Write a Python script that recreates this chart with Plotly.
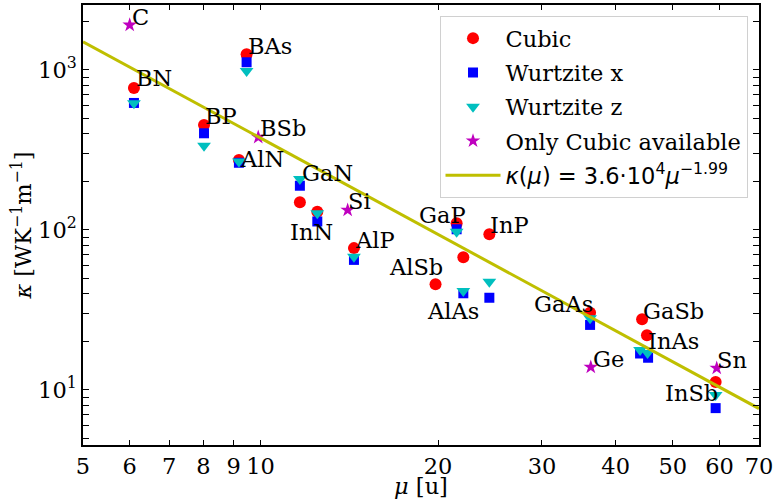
import numpy as np
import plotly.graph_objects as go

# ---- data ----
cubic_mu    = [6.1, 8.02, 9.19, 9.47, 11.66, 12.48, 14.4, 19.8, 21.5, 22.07, 24.43, 36.2, 44.35, 45.2, 59.1]
cubic_kappa = [772, 453, 274, 1254, 149, 130, 77, 45.8, 110, 67.5, 94, 30.4, 27.7, 22.0, 11.2]

wx_mu    = [6.1, 8.02, 9.19, 9.47, 11.66, 12.48, 14.4, 21.5, 22.07, 24.43, 36.2, 44.0, 45.4, 59.1]
wx_kappa = [622, 402, 263, 1117, 189, 113, 65, 101, 40.2, 37.7, 25.5, 16.9, 15.9, 7.7]

wz_mu    = [6.1, 8.02, 9.19, 9.47, 11.66, 12.48, 14.4, 21.5, 22.07, 24.43, 36.2, 44.0, 45.3, 59.1]
wz_kappa = [620, 336, 268, 985, 208, 127, 68, 97.5, 41.5, 47.5, 28.1, 17.8, 17.0, 9.3]

star_mu    = [6.0, 9.91, 14.05, 36.3, 59.35]
star_kappa = [1910, 380, 133, 13.9, 13.7]

fit_mu    = [5, 70]
fit_kappa = [1500, 7.65]

labels  = ["C", "BN", "BAs", "BP", "BSb", "AlN", "GaN", "InN", "Si", "AlP", "GaP", "InP",
           "AlSb", "AlAs", "GaAs", "GaSb", "InAs", "Ge", "Sn", "InSb"]
label_x = [6.05, 6.15, 9.52, 8.05, 9.98, 9.23, 11.75, 11.21, 14.07, 14.45, 18.59, 24.48,
           16.5, 19.12, 29.07, 44.56, 45.4, 36.55, 59.45, 48.5]
label_y = [1884, 783, 1241, 453, 381, 244, 200, 85.4, 133, 76, 109, 94,
           51.6, 27.4, 30.2, 27.4, 17.9, 13.8, 13.5, 8.45]

x_ticks = [5, 6, 7, 8, 9, 10, 20, 30, 40, 50, 60, 70]
y_major = [10, 100, 1000]
y_major_text = ["10<sup>1</sup>", "10<sup>2</sup>", "10<sup>3</sup>"]
y_all = [5, 6, 7, 8, 9, 10, 20, 30, 40, 50, 60, 70, 80, 90, 100, 200, 300, 400, 500,
         600, 700, 800, 900, 1000, 2000]

SERIF = "DejaVu Serif"
FS = 22.5

fig = go.Figure()
fig.add_trace(go.Scatter(x=cubic_mu, y=cubic_kappa, mode="markers", name="Cubic",
                         marker=dict(symbol="circle", size=12, color="#ff0000"),
                         legendgroup="a"))
fig.add_trace(go.Scatter(x=wx_mu, y=wx_kappa, mode="markers", name="Wurtzite x",
                         marker=dict(symbol="square", size=10, color="#0000ff"),
                         legendgroup="b"))
fig.add_trace(go.Scatter(x=wz_mu, y=wz_kappa, mode="markers", name="Wurtzite z",
                         marker=dict(symbol="triangle-down", size=12, color="#00bfbf"),
                         legendgroup="c"))
fig.add_trace(go.Scatter(x=star_mu, y=star_kappa, mode="markers", name="Only Cubic available",
                         marker=dict(symbol="star", size=11, color="#bf00bf"),
                         legendgroup="d"))
fig.add_trace(go.Scatter(x=fit_mu, y=fit_kappa, mode="lines",
                         name="<span style='font-family:DejaVu Sans'><i>κ</i>(<i>μ</i>) = 3.6·10<sup>4</sup><i>μ</i><sup>−1.99</sup></span>",
                         line=dict(color="#bfbf00", width=3), legendgroup="e"))

for t, lx, ly in zip(labels, label_x, label_y):
    fig.add_annotation(x=np.log10(lx), y=np.log10(ly), text=t, showarrow=False,
                       xanchor="left", yanchor="bottom", yshift=-6, xshift=-2,
                       font=dict(family=SERIF, size=FS, color="black"))

fig.update_xaxes(type="log", range=[np.log10(5), np.log10(70)], automargin=False,
                 tickvals=x_ticks, ticktext=[str(v) for v in x_ticks],
                 ticks="inside", ticklen=5, tickwidth=1.2, tickcolor="black",
                 showline=True, linecolor="black", linewidth=1.5, mirror="allticks",
                 showgrid=False, zeroline=False,
                 tickfont=dict(family=SERIF, size=FS, color="black"),
                 title=dict(text="<i>μ</i> [u]", font=dict(family=SERIF, size=FS, color="black"),
                            standoff=0))
fig.update_yaxes(type="log", range=[0.656, 3.406], automargin=False,
                 tickvals=y_all,
                 ticktext=[y_major_text[y_major.index(v)] if v in y_major else "" for v in y_all],
                 ticks="inside", ticklen=6, tickwidth=1.2, tickcolor="black",
                 showline=True, linecolor="black", linewidth=1.5, mirror="allticks",
                 showgrid=False, zeroline=False,
                 tickfont=dict(family=SERIF, size=FS, color="black"),
                 title=dict(text="<i>κ</i> [WK<sup>−1</sup>m<sup>−1</sup>]",
                            font=dict(family=SERIF, size=FS, color="black"), standoff=0))

fig.update_layout(width=774, height=499, margin=dict(l=83, r=15, t=5, b=54),
                  plot_bgcolor="white", paper_bgcolor="white",
                  legend=dict(x=0.983, y=0.975, xanchor="right", yanchor="top",
                              bgcolor="rgba(255,255,255,0.85)", bordercolor="#d0d0d0", borderwidth=1,
                              font=dict(family=SERIF, size=FS, color="black"),
                              itemwidth=55, tracegroupgap=2, traceorder="grouped"))

fig.write_html("out.html", config={"displayModeBar": False},
               post_script="document.body.style.margin='0';document.body.style.overflow='hidden';")
